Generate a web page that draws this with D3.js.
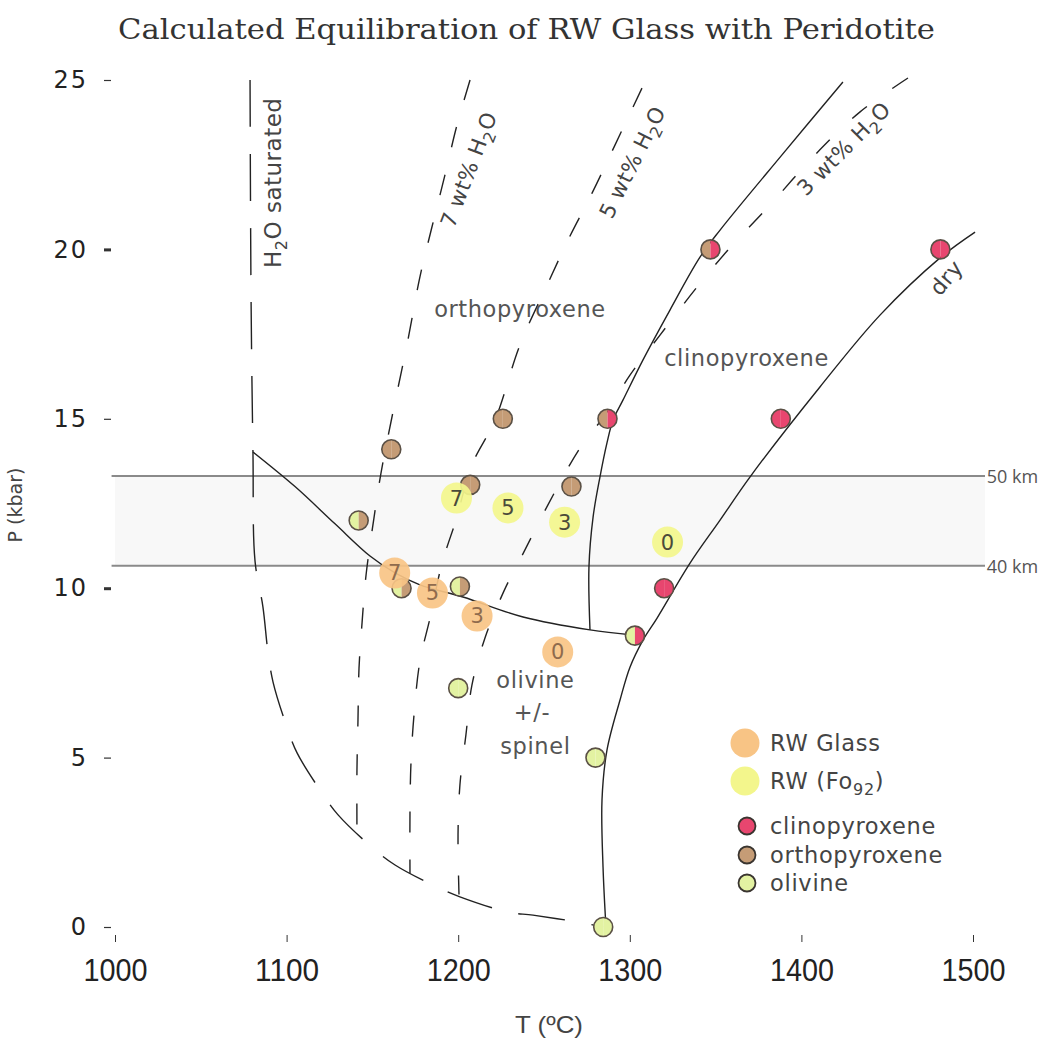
<!DOCTYPE html>
<html>
<head>
<meta charset="utf-8">
<script src="https://cdn.jsdelivr.net/npm/d3@7"></script>
<style>
  body { margin: 0; background: #fff; }
  svg { display: block; }
</style>
</head>
<body>
<svg width="1053" height="1041"></svg>
<script>
// axis ticks
var tempTicks = [1000, 1100, 1200, 1300, 1400, 1500];
var presTicks = [0, 5, 10, 15, 20, 25];

// phase boundaries, [T (C), P (kbar)]
var h2oSaturated = [[1078.7,25],[1079.3,18.5],[1080.4,14.0],[1081.6,10.8],[1086.2,9.45],[1089.2,8.09],[1092.1,7.23],[1100.2,5.9],[1106.1,5.14],[1120.6,3.96],[1130,3.31],[1150.3,2.33],[1163.2,1.83],[1187.6,1.18],[1201,0.89],[1229,0.44],[1243.6,0.35],[1272.7,0.12],[1284.4,0]];
var wt7 = [[1206.9,25],[1199.3,23.67],[1192.3,22.2],[1184.7,20.66],[1177.7,19.19],[1170.7,17.33],[1162,15.2],[1155,13.4],[1150.9,12.07],[1146.3,10.39],[1144,9.0],[1142.2,7.64],[1141.6,6.11],[1141,4.63],[1141,2.8]];
var wt5 = [[1307.1,24.76],[1290.8,23.02],[1278,21.66],[1264.6,20.34],[1252.3,19.0],[1236,17.18],[1221.4,14.96],[1208,13.64],[1198.7,12.01],[1190.6,10.74],[1183.6,9.12],[1177.7,7.85],[1174.2,6.23],[1172.5,4.87],[1171.9,3.42],[1171.9,1.59]];
var wt3 = [[1462.1,25.06],[1434.2,24.06],[1407.9,22.79],[1381.7,21.31],[1357.2,19.98],[1339.2,18.89],[1317.6,17.47],[1300.1,16.29],[1285.5,15.11],[1271,14.14],[1252.3,12.46],[1238.9,11.13],[1226.7,9.92],[1215.6,8.53],[1208,7.14],[1204.5,5.67],[1201,4.19],[1199.9,2.72],[1200.5,0.89]];
var cpxBoundary = [[1424.2,24.94],[1388.7,22.79],[1352.6,20.57],[1340.9,19.77],[1323.4,18.21],[1307.7,16.74],[1296,15.55],[1290.2,14.96],[1286.7,14.29],[1282.6,13.28],[1278.6,12.1],[1276.2,10.63],[1276.8,8.77]];
var olBoundary = [[1080.4,14.02],[1104.9,13.0],[1128.2,11.9],[1148.6,10.95],[1163.2,10.45],[1177.7,10.1],[1202.8,9.74],[1237.8,9.15],[1276.8,8.77],[1301.9,8.62]];
var dry = [[1501.2,20.51],[1480.8,19.75],[1445.8,18.06],[1410.8,15.94],[1370,13.28],[1352.6,12.01],[1335.1,10.74],[1315.9,9.12],[1307.7,8.47],[1300.1,7.67],[1294.3,6.7],[1286.7,5.22],[1283.8,3.75],[1284.4,1.77],[1286.1,0]];

// depth band
var depthKm = [40, 50];
var depthP = [10.66, 13.31];

// residual mineral assemblages (left half / right half)
var minerals = [
	{T: 1161, P: 14.1, a: "opx", b: "opx"},
	{T: 1226, P: 15.0, a: "opx", b: "opx"},
	{T: 1287, P: 15.0, a: "opx", b: "cpx"},
	{T: 1347, P: 20.0, a: "opx", b: "cpx"},
	{T: 1481, P: 20.0, a: "cpx", b: "cpx"},
	{T: 1388, P: 15.0, a: "cpx", b: "cpx"},
	{T: 1320, P: 10.0, a: "cpx", b: "cpx"},
	{T: 1303, P: 8.6, a: "ol", b: "cpx"},
	{T: 1142, P: 12.0, a: "ol", b: "opx"},
	{T: 1167, P: 10.0, a: "ol", b: "opx"},
	{T: 1207, P: 13.05, a: "opx", b: "opx"},
	{T: 1266, P: 13.0, a: "opx", b: "opx"},
	{T: 1201, P: 10.05, a: "ol", b: "opx"},
	{T: 1200, P: 7.05, a: "ol", b: "ol"},
	{T: 1280, P: 5.0, a: "ol", b: "ol"},
	{T: 1284.5, P: 0, a: "ol", b: "ol"}
];

// RW glass and RW (Fo92) compositions, by wt% H2O
var glassWater = ["7", "5", "3", "0"];
var glassT = [1163, 1185, 1211, 1258];
var glassP = [10.45, 9.86, 9.18, 8.12];
var fo92T = [1199, 1229, 1262, 1322];
var fo92P = [12.66, 12.37, 11.95, 11.36];

var fillOf = {cpx: "#e8466f", opx: "#c59c76", ol: "#e3f2a2"};

var svg = d3.select("svg");
var x = d3.scaleLinear().domain([1000, 1500]).range([115, 973]);
var y = d3.scaleLinear().domain([0, 25]).range([927, 80]);

// title
svg.append("text")
	.attr("x", 118).attr("y", 39)
	.attr("textLength", 817).attr("lengthAdjust", "spacingAndGlyphs")
	.style("font-family", "'DejaVu Serif', serif")
	.style("font-size", "28px")
	.style("fill", "#333")
	.text("Calculated Equilibration of RW Glass with Peridotite");

// depth band
svg.append("rect")
	.attr("x", x(1000)).attr("y", y(depthP[1]))
	.attr("width", x(1507) - x(1000)).attr("height", y(depthP[0]) - y(depthP[1]))
	.style("fill", "#f8f8f8");
svg.selectAll(".depth").data(depthP).enter().append("line")
	.attr("x1", x(998)).attr("x2", x(1507))
	.attr("y1", function(d) { return y(d); }).attr("y2", function(d) { return y(d); })
	.style("stroke", "#8a8a8a").style("stroke-width", 2);
svg.selectAll(".depthLabel").data(depthP).enter().append("text")
	.attr("x", x(1508)).attr("y", function(d) { return y(d) + 7; })
	.style("font-family", "'Open Sans', sans-serif").style("font-size", "18px").style("fill", "#555")
	.text(function(d, i) { return depthKm[i] + " km"; });

// axes
var gx = svg.append("g").attr("transform", "translate(0,935)")
	.call(d3.axisBottom(x).tickValues(tempTicks).tickSize(7).tickPadding(17).tickFormat(d3.format("d")));
gx.select(".domain").remove();
gx.selectAll("line").style("stroke", "#333");
gx.selectAll("text")
	.attr("textLength", 64).attr("lengthAdjust", "spacingAndGlyphs")
	.style("font-family", "'Liberation Sans', sans-serif").style("font-size", "31px").style("fill", "#222");

var gy = svg.append("g").attr("transform", "translate(111,0)")
	.call(d3.axisLeft(y).tickValues(presTicks).tickSize(7).tickPadding(16));
gy.select(".domain").remove();
gy.selectAll("line").style("stroke", "#333").style("stroke-width", function(d) { return d % 10 == 0 && d > 0 ? 3 : 1.2; });
gy.selectAll("text")
	.style("font-family", "'DejaVu Sans', sans-serif").style("font-size", "24px").style("letter-spacing", "2px").style("fill", "#222");

svg.append("text")
	.attr("transform", "translate(22,505) rotate(-90)")
	.attr("text-anchor", "middle")
	.style("font-family", "'DejaVu Sans', sans-serif").style("font-size", "19px").style("fill", "#444")
	.text("P (kbar)");
svg.append("text")
	.attr("x", 549).attr("y", 1033)
	.attr("text-anchor", "middle")
	.attr("textLength", 68).attr("lengthAdjust", "spacingAndGlyphs")
	.style("font-family", "'Liberation Sans', sans-serif").style("font-size", "24px").style("fill", "#444")
	.text("T (ºC)");

// curves
var line = d3.line()
	.x(function(d) { return x(d[0]); })
	.y(function(d) { return y(d[1]); })
	.curve(d3.curveCatmullRom.alpha(0.5));

function curve(data, dash) {
	svg.append("path")
		.datum(data)
		.attr("d", line)
		.style("fill", "none")
		.style("stroke", "#222")
		.style("stroke-width", 1.4)
		.style("stroke-dasharray", dash);
}
curve(h2oSaturated, "47,27");
curve(wt7, "21,28");
curve(wt5, "21,27");
curve(wt3, "19,31");
curve(cpxBoundary, null);
curve(olBoundary, null);
curve(dry, null);

// mineral points
var arc = d3.arc().innerRadius(0).outerRadius(9.5);
var mg = svg.selectAll(".mineral").data(minerals).enter().append("g")
	.attr("transform", function(d) { return "translate(" + x(d.T) + "," + y(d.P) + ")"; });
mg.append("path")
	.attr("d", arc({startAngle: Math.PI, endAngle: 2 * Math.PI}))
	.style("fill", function(d) { return fillOf[d.a]; });
mg.append("path")
	.attr("d", arc({startAngle: 0, endAngle: Math.PI}))
	.style("fill", function(d) { return fillOf[d.b]; });
mg.append("circle").attr("r", 9.5)
	.style("fill", "none").style("stroke", "#5a5045").style("stroke-width", 1.6);

// RW glass / Fo92 points
function bigPoints(ts, ps, color, textColor) {
	var g = svg.append("g");
	var pg = g.selectAll("g").data(glassWater).enter().append("g")
		.attr("transform", function(d, i) { return "translate(" + x(ts[i]) + "," + y(ps[i]) + ")"; });
	pg.append("circle").attr("r", 15.5).style("fill", color).style("opacity", 0.92);
	pg.append("text")
		.attr("text-anchor", "middle").attr("y", 7.5)
		.style("font-family", "'DejaVu Sans', sans-serif").style("font-size", "21px").style("fill", textColor)
		.text(function(d) { return d; });
}
bigPoints(glassT, glassP, "#f8c485", "#8f6b4d");
bigPoints(fo92T, fo92P, "#f3f68c", "#4a4a3a");

// field labels
var fieldLabels = [
	{t: "orthopyroxene", T: 1236, P: 18.0},
	{t: "clinopyroxene", T: 1368, P: 16.55},
	{t: "olivine", T: 1245, P: 7.05},
	{t: "+/-", T: 1243, P: 6.1},
	{t: "spinel", T: 1245, P: 5.1}
];
svg.selectAll(".field").data(fieldLabels).enter().append("text")
	.attr("x", function(d) { return x(d.T); }).attr("y", function(d) { return y(d.P); })
	.attr("text-anchor", "middle")
	.style("font-family", "'DejaVu Sans', sans-serif").style("font-size", "22.5px").style("letter-spacing", "0.6px").style("fill", "#555")
	.text(function(d) { return d.t; });

// curve labels
function rotLabel(px, py, angle, size) {
	return svg.append("text")
		.attr("transform", "translate(" + px + "," + py + ") rotate(" + angle + ")")
		.style("font-family", "'DejaVu Sans', sans-serif").style("font-size", size + "px")
		.style("letter-spacing", "0.5px").style("fill", "#444");
}
function h2oText(t, pre) {
	t.append("tspan").text(pre + "H");
	t.append("tspan").attr("dy", 6).style("font-size", "16px").text("2");
	t.append("tspan").attr("dy", -6).text("O");
}
var t1 = rotLabel(281, 268, -90, 23); h2oText(t1, ""); t1.append("tspan").text(" saturated");
h2oText(rotLabel(454, 229, -69, 21.5), "7 wt% ");
h2oText(rotLabel(612, 220, -63.5, 21.5), "5 wt% ");
h2oText(rotLabel(806, 197, -45, 21.5), "3 wt% ");
rotLabel(940, 297, -50, 22).text("dry");

// legend
var lg = svg.append("g");
lg.append("circle").attr("cx", 745).attr("cy", 743).attr("r", 14.5).style("fill", "#f8c485");
lg.append("circle").attr("cx", 745).attr("cy", 781).attr("r", 14.5).style("fill", "#f3f68c");
var legMin = ["cpx", "opx", "ol"];
var legNames = ["clinopyroxene", "orthopyroxene", "olivine"];
var legY = [826, 855, 883];
lg.selectAll(".lm").data(legMin).enter().append("circle")
	.attr("cx", 747).attr("cy", function(d, i) { return legY[i]; }).attr("r", 8.5)
	.style("fill", function(d) { return fillOf[d]; })
	.style("stroke", "#3a3530").style("stroke-width", 1.8);
var legStyle = function(sel) {
	sel.style("font-family", "'DejaVu Sans', sans-serif").style("font-size", "22.5px")
		.style("letter-spacing", "0.7px").style("fill", "#444");
};
lg.append("text").attr("x", 770).attr("y", 751).call(legStyle).text("RW Glass");
var fo = lg.append("text").attr("x", 770).attr("y", 789).call(legStyle);
fo.append("tspan").text("RW (Fo");
fo.append("tspan").attr("dy", 6).style("font-size", "16px").text("92");
fo.append("tspan").attr("dy", -6).text(")");
lg.selectAll(".ln").data(legNames).enter().append("text")
	.attr("x", 770).attr("y", function(d, i) { return legY[i] + 8; })
	.call(legStyle)
	.text(function(d) { return d; });
</script>
</body>
</html>
